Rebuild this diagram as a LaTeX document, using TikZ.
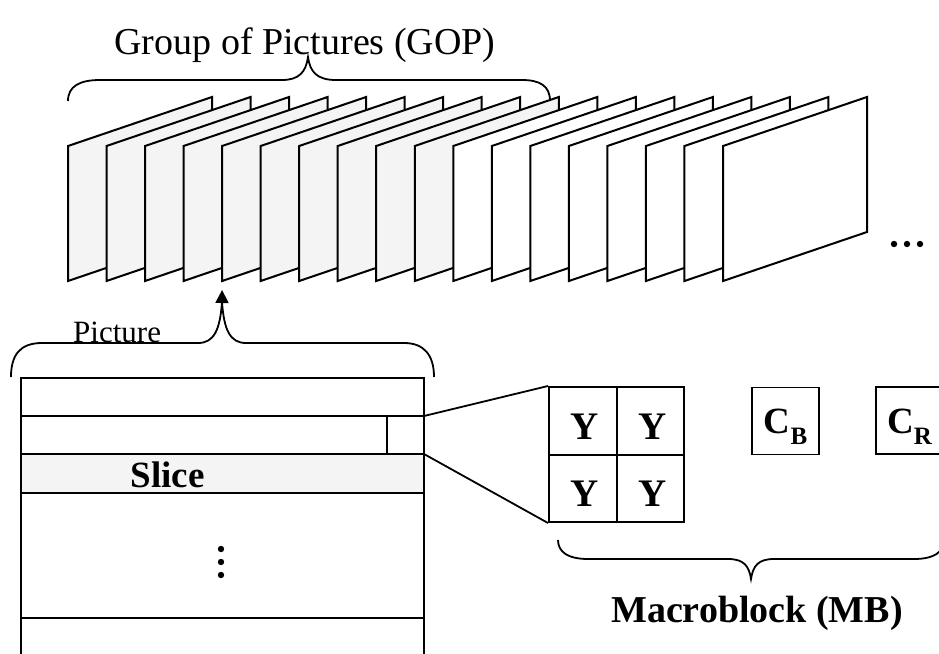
\documentclass[tikz,border=0pt]{standalone}
\usepackage{fontspec}
\setmainfont{Liberation Serif}
\usetikzlibrary{arrows.meta}
\definecolor{paper}{HTML}{F4F4F4}
\begin{document}
\begin{tikzpicture}[x=1pt,y=-1pt,line join=miter,
  frame/.style={draw=black,line width=2pt},
  bracepath/.style={draw=black,line width=1.8pt},
  outline/.style={draw=black,line width=2pt},
  cell/.style={draw=black,line width=2pt,minimum width=67.5pt,minimum height=67.5pt,inner sep=0pt},
  ylabel/.style={inner sep=0pt,font=\fontsize{39}{39}\selectfont\bfseries},
  chroma/.style={draw=black,line width=1.6pt,minimum width=67pt,minimum height=67pt,inner sep=0pt},
  clabel/.style={inner sep=0pt,font=\fontsize{37}{37}\selectfont\bfseries},
  dot/.style={fill=black}]
\useasboundingbox (0,0) rectangle (939,653);
\clip (0,0) rectangle (939,653);

% ---- group of pictures: stacked frames, back to front ----
\foreach \i in {0,...,17}{
  \pgfmathsetmacro{\fx}{68+\i*38.53}
  \ifnum\i<10
    \path[frame,fill=paper] (\fx,281) -- (\fx,146) -- (\fx+144,97) -- (\fx+144,232) -- cycle;
  \else
    \path[frame,fill=white] (\fx,281) -- (\fx,146) -- (\fx+144,97) -- (\fx+144,232) -- cycle;
  \fi
  \coordinate (frame\i) at (\fx,281);
}
\foreach \d in {894,907,920}{\fill[dot] (\d,244) circle (3.2pt);}

% brace over the GOP
\path[bracepath] (68,101) .. controls (68,86) and (80,80) .. (100,80) -- (282,80)
  .. controls (299,80) and (306,72) .. (308,57)
  .. controls (310,72) and (317,80) .. (336,80) -- (522,80)
  .. controls (540,80) and (550,86) .. (550,101);
\node[anchor=base,font=\fontsize{38}{38}\selectfont] (goplabel) at (305,54) {Group of Pictures (GOP)};

% ---- one picture split into slices ----
\fill[paper] (21,454) rectangle (424,493);
\path[outline] (21,700) -- (21,378) -- (424,378) -- (424,700);
\foreach \yy in {416,454,493,618}{\path[outline] (21,\yy) -- (424,\yy);}
\path[outline] (387,416) -- (387,454);
\coordinate (mbtop) at (424,416);
\coordinate (mbbot) at (424,454);
\node[anchor=base,font=\fontsize{37}{37}\selectfont\bfseries] (slicelabel) at (167.5,487) {Slice};
\foreach \d in {549,562,575}{\fill[dot] (221,\d) circle (3.2pt);}

% brace over the picture, with arrow pointing to a frame
\path[bracepath] (11,377) .. controls (11,355) and (20,343) .. (42,343) -- (198,343)
  .. controls (214,343) and (220,330) .. (222,302)
  .. controls (224,330) and (230,343) .. (246,343) -- (404,343)
  .. controls (424,343) and (434,355) .. (434,377);
\coordinate (pictip) at (222,302);
\node[anchor=base west,font=\fontsize{31}{31}\selectfont,inner sep=0pt] (piclabel) at (73,342) {Picture};
\draw[line width=1.8pt,-{Triangle[width=13pt,length=13pt]},shorten >=9pt] (pictip) -- (frame4);

% ---- macroblock: four luma blocks and two chroma blocks ----
\node[cell] (y11) at (582.75,420.75) {};
\node[cell] (y12) at (650.25,420.75) {};
\node[cell] (y21) at (582.75,488.25) {};
\node[cell] (y22) at (650.25,488.25) {};
\foreach \c in {y11,y12,y21,y22}{\node[ylabel] at ([xshift=2pt,yshift=-5.5pt]\c.center) {Y};}
\draw[line width=1.8pt] (mbtop) -- (y11.north west);
\draw[line width=1.8pt] (mbbot) -- (y21.south west);

\node[chroma] (cb) at (785.5,421) {};
\node[chroma] (cr) at (909.5,420.5) {};
\node[clabel] at ([yshift=-6pt]cb.center) {C\raisebox{-10.5pt}{\fontsize{25}{25}\selectfont B}};
\node[clabel] at ([yshift=-6pt]cr.center) {C\raisebox{-10.5pt}{\fontsize{25}{25}\selectfont R}};

% brace under the macroblock
\path[bracepath] (558,540) .. controls (558,552) and (568,559) .. (588,559) -- (728,559)
  .. controls (744,559) and (749,566) .. (751,579)
  .. controls (753,566) and (758,559) .. (774,559) -- (914,559)
  .. controls (934,559) and (944,552) .. (944,540);
\node[anchor=base,font=\fontsize{38}{38}\selectfont\bfseries] (mblabel) at (757,622) {Macroblock (MB)};
\end{tikzpicture}
\end{document}
